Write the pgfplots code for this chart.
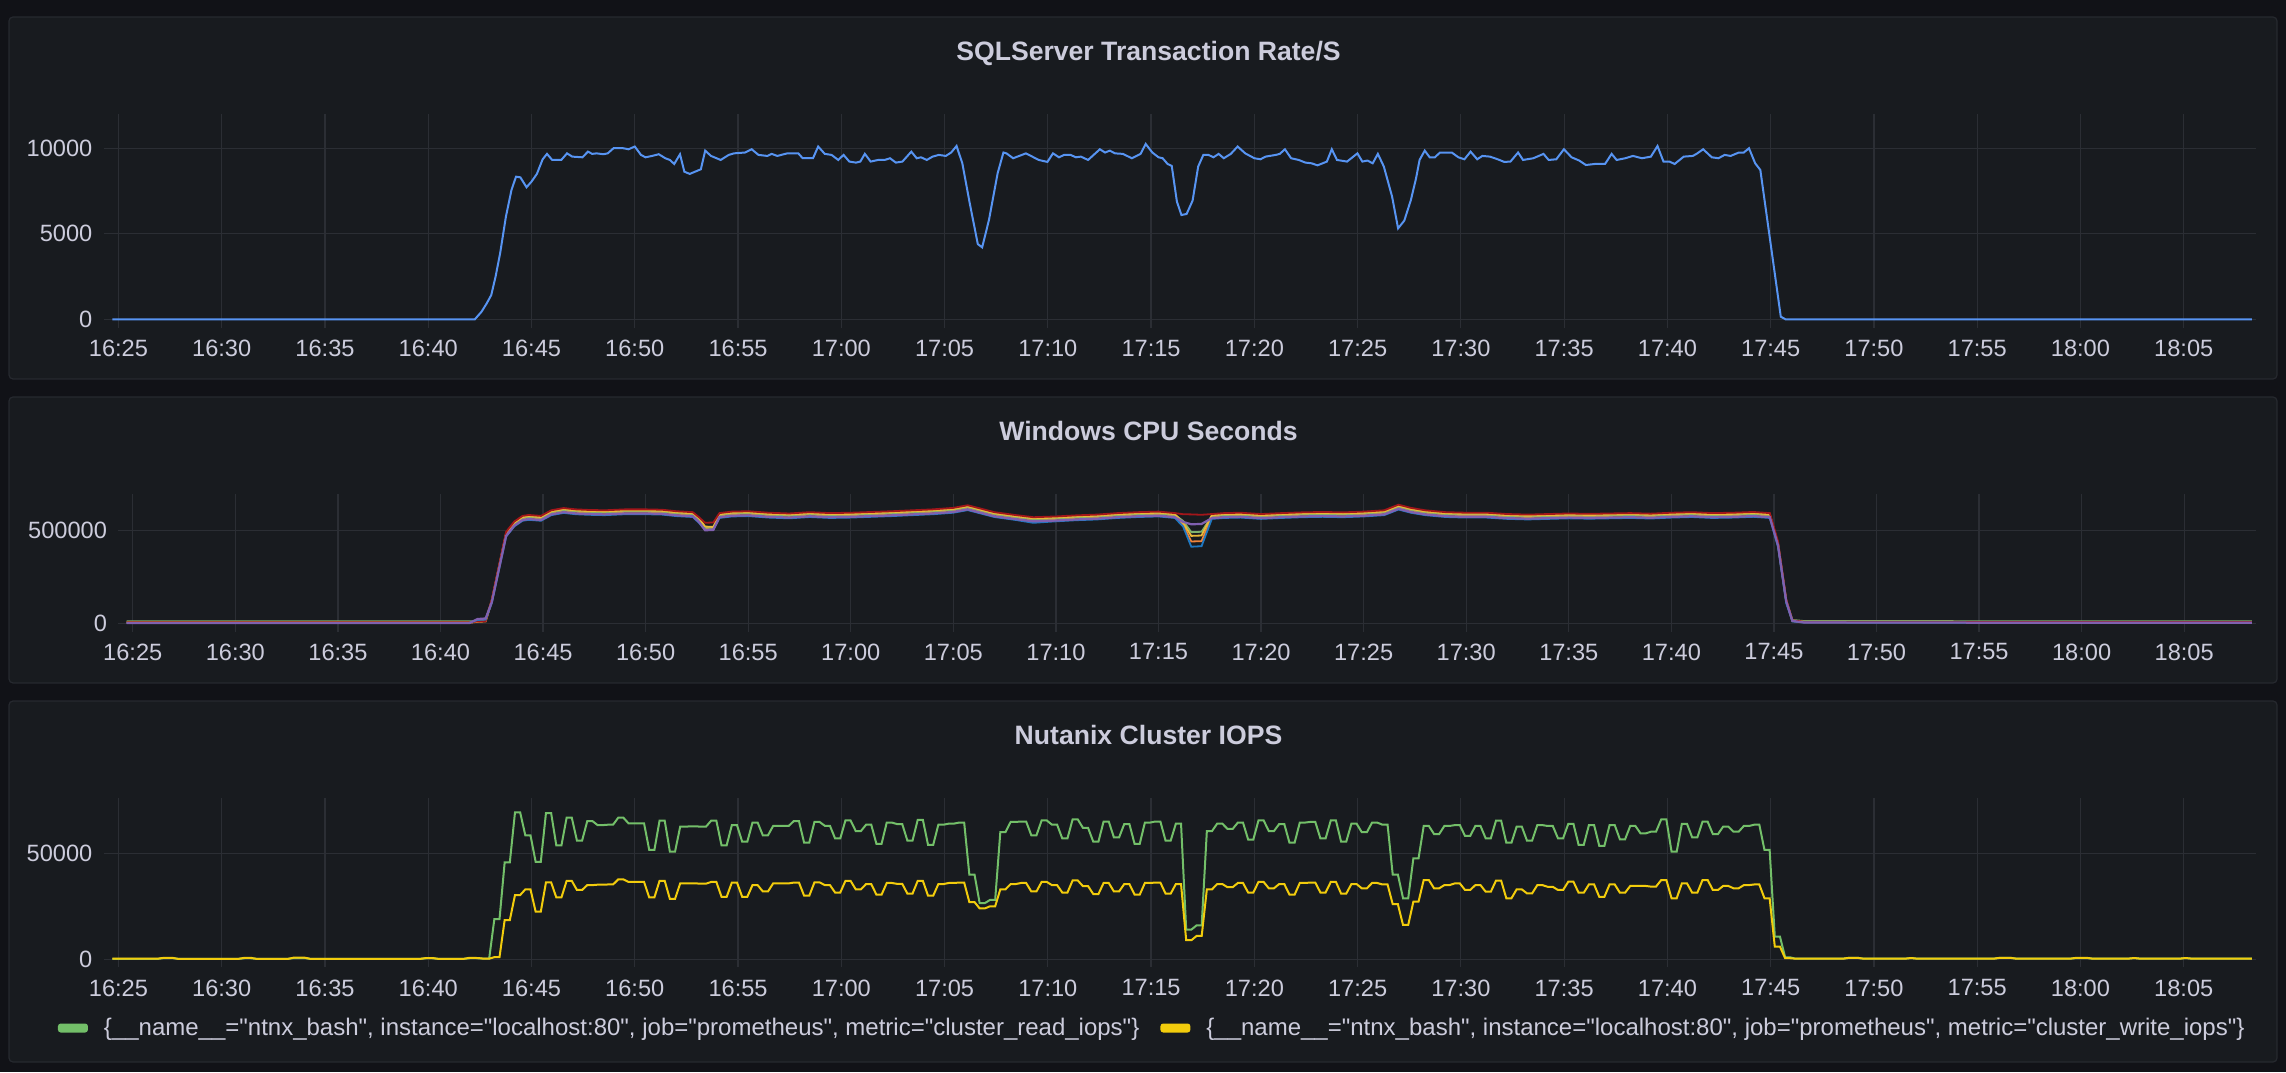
\documentclass[border=0pt]{standalone}
\usepackage{fontspec}
\setmainfont{Liberation Sans}
\newfontfamily\legfont{Liberation Sans}
\usepackage{pgfplots}
\pgfplotsset{compat=1.18}
\usepackage{pgfplotstable}

\definecolor{outerbg}{HTML}{111217}
\definecolor{panelbg}{HTML}{181B1F}
\definecolor{panelbd}{HTML}{26292F}
\definecolor{gridc}{HTML}{2B2E34}
\definecolor{textc}{HTML}{CCCCDC}
\definecolor{sqlblue}{HTML}{5794F2}
\definecolor{readg}{HTML}{73BF69}
\definecolor{writey}{HTML}{F2CC0C}
\definecolor{cgreen}{HTML}{7EB26D}
\definecolor{cyellow}{HTML}{EAB839}
\definecolor{cblue}{HTML}{1F78C1}
\definecolor{corange}{HTML}{EF843C}
\definecolor{cred}{HTML}{A3161A}
\definecolor{cpurple}{HTML}{8060B0}

\pgfplotstableread[row sep=\\]{
t a b c d e f\\
-0.3 13 6 4 5 7 3\\
16.4 13 6 4 5 7 3\\
16.8 14 12 20 10 12 25\\
17.2 18 15 22 12 14 28\\
17.5 125 122 110 118 130 115\\
18.2 482 486 466 479 492 470\\
18.6 537 541 521 534 547 525\\
19.0 567 571 551 564 577 555\\
19.3 572 576 556 569 582 560\\
19.9 567 571 551 564 577 555\\
20.4 597 601 581 594 607 585\\
21.0 609 613 593 606 619 597\\
21.6 602 606 586 599 612 590\\
22.2 599 603 583 596 609 587\\
23.0 597 601 581 594 607 585\\
24.0 602 606 586 599 612 590\\
25.0 602 606 586 599 612 590\\
25.8 600 604 584 597 610 588\\
26.5 592 596 576 589 602 580\\
27.3 587 591 571 584 597 575\\
27.6 557 565 540 552 570 545\\
27.9 515 520 503 512 540 500\\
28.3 516 518 504 513 542 502\\
28.6 582 586 566 579 592 570\\
29.2 590 594 574 587 600 578\\
30.0 592 596 576 589 602 580\\
31.0 584 588 568 581 594 572\\
32.0 580 584 564 577 590 568\\
33.0 587 591 571 584 597 575\\
34.0 582 586 566 579 592 570\\
35.0 584 588 568 581 594 572\\
36.0 588 592 572 585 598 576\\
37.0 592 596 576 589 602 580\\
38.0 597 601 581 594 607 585\\
39.0 602 606 586 599 612 590\\
40.0 610 614 594 607 620 598\\
40.7 624 628 608 621 634 612\\
41.3 607 611 591 604 617 595\\
42.0 587 591 571 584 597 575\\
43.0 572 576 556 569 582 560\\
43.9 560 564 540 557 570 548\\
45.0 564 568 548 561 574 552\\
46.0 570 574 554 567 580 558\\
47.0 574 578 558 571 584 562\\
48.0 582 586 566 579 592 570\\
49.0 587 591 571 584 597 575\\
50.0 590 594 574 587 600 578\\
50.8 582 586 566 579 592 570\\
51.2 550 540 520 530 586 545\\
51.6 490 470 412 440 585 532\\
52.1 492 472 415 442 583 534\\
52.6 577 581 561 574 587 565\\
53.2 582 586 566 579 592 570\\
54.0 584 588 568 581 594 572\\
55.0 577 581 561 574 587 565\\
56.0 582 586 566 579 592 570\\
57.0 586 590 570 583 596 574\\
58.0 588 592 572 585 598 576\\
59.0 586 590 570 583 596 574\\
60.0 590 594 574 587 600 578\\
61.0 597 601 581 594 607 585\\
61.7 627 631 611 624 637 615\\
62.3 610 614 594 607 620 598\\
63.0 597 601 581 594 607 585\\
64.0 587 591 571 584 597 575\\
65.0 584 588 568 581 594 572\\
66.0 584 588 568 581 594 572\\
67.0 577 581 561 574 587 565\\
68.0 574 578 558 571 584 562\\
69.0 577 581 561 574 587 565\\
70.0 580 584 564 577 590 568\\
71.0 578 582 562 575 588 566\\
72.0 580 584 564 577 590 568\\
73.0 582 586 566 579 592 570\\
74.0 579 583 563 576 589 567\\
75.0 584 588 568 581 594 572\\
76.0 587 591 571 584 597 575\\
77.0 582 586 566 579 592 570\\
78.0 584 588 568 581 594 572\\
79.0 588 592 572 585 598 576\\
79.8 582 586 566 579 592 570\\
80.2 430 425 410 420 440 420\\
80.6 125 122 110 118 130 120\\
80.9 20 16 12 14 18 15\\
81.5 14 9 6 8 10 6\\
103.3 13 8 5 7 9 5\\
}\cpudata

\pgfplotstableread[row sep=\\]{
t g w\\
-0.3 200 300\\ 1.9 200 300\\ 2.2 600 700\\ 2.6 600 700\\ 2.9 200 200\\
5.8 200 200\\ 6.1 500 700\\ 6.4 500 700\\ 6.7 200 200\\
8.2 200 200\\ 8.5 600 800\\ 9.0 600 800\\ 9.3 200 200\\
14.6 200 200\\ 14.9 500 600\\ 15.2 500 600\\ 15.5 200 200\\
16.7 200 200\\ 17.0 500 700\\ 17.4 500 600\\ 17.7 300 300\\ 17.95 300 300\\
18.2 18900 1000\\ 18.45 18900 1000\\
18.7 45700 18500\\ 18.95 45700 18500\\
19.2 69300 30300\\ 19.45 69300 30300\\
19.7 58500 33000\\ 19.95 58500 33000\\
20.2 46000 22500\\ 20.45 46000 22500\\
20.7 69000 36300\\ 20.95 69000 36300\\
21.2 53800 29200\\ 21.45 53800 29200\\
21.7 66800 37000\\ 21.95 66800 37000\\
22.2 56000 32700\\ 22.45 56000 32700\\
22.7 65200 35000\\ 22.95 65200 35000\\
23.2 63300 35200\\ 23.45 63300 35200\\
23.7 63500 35300\\ 23.95 63500 35300\\
24.2 66800 37700\\ 24.45 66800 37700\\
24.7 64100 36500\\ 24.95 64100 36500\\
25.2 64100 36500\\ 25.45 64100 36500\\
25.7 51600 29200\\ 25.95 51600 29200\\
26.2 65400 37000\\ 26.45 65400 37000\\
26.7 50800 28500\\ 26.95 50800 28500\\
27.2 62600 35800\\ 27.45 62600 35800\\
27.7 62700 35800\\ 27.95 62700 35800\\
28.2 62600 35700\\ 28.45 62600 35700\\
28.7 65400 36500\\ 28.95 65400 36500\\
29.2 53800 29500\\ 29.45 53800 29500\\
29.7 63300 36200\\ 29.95 63300 36200\\
30.2 55500 29500\\ 30.45 55500 29500\\
30.7 64500 35000\\ 30.95 64500 35000\\
31.2 58500 32000\\ 31.45 58500 32000\\
31.7 62900 35800\\ 31.95 62900 35800\\
32.2 62900 35800\\ 32.45 62900 35800\\
32.7 65200 36200\\ 32.95 65200 36200\\
33.2 55000 30000\\ 33.45 55000 30000\\
33.7 64800 36300\\ 33.95 64800 36300\\
34.2 63000 35000\\ 34.45 63000 35000\\
34.7 57000 31500\\ 34.95 57000 31500\\
35.2 65500 37000\\ 35.45 65500 37000\\
35.7 60500 33000\\ 35.95 60500 33000\\
36.2 63500 35500\\ 36.45 63500 35500\\
36.7 54500 30500\\ 36.95 54500 30500\\
37.2 64500 36000\\ 37.45 64500 36000\\
37.7 63800 35600\\ 37.95 63800 35600\\
38.2 56000 31000\\ 38.45 56000 31000\\
38.7 65800 37000\\ 38.95 65800 37000\\
39.2 54000 30000\\ 39.45 54000 30000\\
39.7 63500 35500\\ 39.95 63500 35500\\
40.2 64000 36000\\ 40.45 64000 36000\\
40.7 64500 36200\\ 40.95 64500 36200\\
41.2 40000 27000\\ 41.45 40000 27000\\
41.7 26500 24000\\ 41.95 26500 24000\\
42.2 28000 25000\\ 42.45 28000 25000\\
42.7 60000 33000\\ 42.95 60000 33000\\
43.2 64800 35500\\ 43.45 64800 35500\\
43.7 65000 36000\\ 43.95 65000 36000\\
44.2 58500 32000\\ 44.45 58500 32000\\
44.7 65500 36500\\ 44.95 65500 36500\\
45.2 63500 35000\\ 45.45 63500 35000\\
45.7 57000 31500\\ 45.95 57000 31500\\
46.2 66000 37200\\ 46.45 66000 37200\\
46.7 62000 34500\\ 46.95 62000 34500\\
47.2 55500 30800\\ 47.45 55500 30800\\
47.7 65000 36000\\ 47.95 65000 36000\\
48.2 57500 32000\\ 48.45 57500 32000\\
48.7 63800 35500\\ 48.95 63800 35500\\
49.2 54500 30500\\ 49.45 54500 30500\\
49.7 64500 36000\\ 49.95 64500 36000\\
50.2 65000 36200\\ 50.45 65000 36200\\
50.7 56000 31000\\ 50.95 56000 31000\\
51.2 64000 35500\\ 51.45 64000 35500\\
51.7 14000 9000\\ 51.95 14000 9000\\
52.2 16000 11000\\ 52.45 16000 11000\\
52.7 60500 33000\\ 52.95 60500 33000\\
53.2 64000 35500\\ 53.45 64000 35500\\
53.7 61500 34000\\ 53.95 61500 34000\\
54.2 64500 36000\\ 54.45 64500 36000\\
54.7 56500 31500\\ 54.95 56500 31500\\
55.2 65500 36500\\ 55.45 65500 36500\\
55.7 60500 33500\\ 55.95 60500 33500\\
56.2 63800 35500\\ 56.45 63800 35500\\
56.7 55000 30500\\ 56.95 55000 30500\\
57.2 64500 36000\\ 57.45 64500 36000\\
57.7 64800 36200\\ 57.95 64800 36200\\
58.2 57000 31500\\ 58.45 57000 31500\\
58.7 65500 36500\\ 58.95 65500 36500\\
59.2 55500 31000\\ 59.45 55500 31000\\
59.7 64000 35500\\ 59.95 64000 35500\\
60.2 60000 33500\\ 60.45 60000 33500\\
60.7 64500 36000\\ 60.95 64500 36000\\
61.2 63500 35300\\ 61.45 63500 35300\\
61.7 40000 26000\\ 61.95 40000 26000\\
62.2 28800 16200\\ 62.45 28800 16200\\
62.7 47600 27200\\ 62.95 47600 27200\\
63.2 62900 37400\\ 63.45 62900 37400\\
63.7 59100 33500\\ 63.95 59100 33500\\
64.2 62900 35000\\ 64.45 62900 35000\\
64.7 63300 35800\\ 64.95 63300 35800\\
65.2 58200 32700\\ 65.45 58200 32700\\
65.7 62900 35000\\ 65.95 62900 35000\\
66.2 57100 31900\\ 66.45 57100 31900\\
66.7 65400 37100\\ 66.95 65400 37100\\
67.2 55000 28800\\ 67.45 55000 28800\\
67.7 62600 33000\\ 67.95 62600 33000\\
68.2 56000 31100\\ 68.45 56000 31100\\
68.7 63300 35000\\ 68.95 63300 35000\\
69.2 62900 34200\\ 69.45 62900 34200\\
69.7 57100 32700\\ 69.95 57100 32700\\
70.2 63900 36600\\ 70.45 63900 36600\\
70.7 54000 31400\\ 70.95 54000 31400\\
71.2 63300 35300\\ 71.45 63300 35300\\
71.7 53500 29500\\ 71.95 53500 29500\\
72.2 63300 35300\\ 72.45 63300 35300\\
72.7 56600 31400\\ 72.95 56600 31400\\
73.2 62900 34600\\ 73.45 62900 34600\\
73.7 59400 34600\\ 73.95 59400 34600\\
74.2 60200 34300\\ 74.45 60200 34300\\
74.7 66000 37400\\ 74.95 66000 37400\\
75.2 50800 28800\\ 75.45 50800 28800\\
75.7 63900 35800\\ 75.95 63900 35800\\
76.2 57500 31400\\ 76.45 57500 31400\\
76.7 64900 37400\\ 76.95 64900 37400\\
77.2 59100 32700\\ 77.45 59100 32700\\
77.7 62600 34600\\ 77.95 62600 34600\\
78.2 60200 33500\\ 78.45 60200 33500\\
78.7 62900 35000\\ 78.95 62900 35000\\
79.2 63500 35300\\ 79.45 63500 35300\\
79.7 51600 28800\\ 79.95 51600 28800\\
80.2 10700 6000\\ 80.45 10700 6000\\
80.7 900 500\\ 80.95 900 500\\
81.2 300 300\\ 83.5 300 300\\ 83.8 700 700\\ 84.2 700 700\\ 84.5 300 300\\
86.5 300 300\\ 86.8 600 600\\ 87.1 300 300\\
90.8 300 300\\ 91.1 700 700\\ 91.6 700 700\\ 91.9 300 300\\
94.5 300 300\\ 94.8 600 700\\ 95.3 600 700\\ 95.6 300 300\\
97.3 300 300\\ 97.6 600 600\\ 97.9 300 300\\
99.8 300 300\\ 100.1 600 600\\ 100.4 300 300\\
103.3 300 300\\
}\iopsdata

\pgfplotsset{
  graf/.style={
    scale only axis,
    anchor=south west,
    axis line style={draw=none},
    tick style={draw=none},
    major tick length=0pt,
    grid=major,
    major grid style={draw=gridc, line width=0.6pt},
    scaled y ticks=false,
    scaled x ticks=false,
    xtick={0,5,...,100},
    xticklabels={16:25,16:30,16:35,16:40,16:45,16:50,16:55,17:00,17:05,17:10,17:15,17:20,17:25,17:30,17:35,17:40,17:45,17:50,17:55,18:00,18:05},
    tick label style={font=\fontsize{11.8}{13}\selectfont, text=textc},
    xticklabel style={anchor=north, inner sep=0pt},
    yticklabel style={anchor=east, inner sep=0pt},
  }
}

\begin{document}
\begin{tikzpicture}
\useasboundingbox (0,0) rectangle (1143pt,536pt);
\fill[outerbg] (0,0) rectangle (1143pt,536pt);
\filldraw[fill=panelbg, draw=panelbd, line width=0.6pt, rounded corners=2pt] (4.5pt,346.5pt) rectangle (1138.5pt,527.5pt);
\filldraw[fill=panelbg, draw=panelbd, line width=0.6pt, rounded corners=2pt] (4.5pt,194.5pt) rectangle (1138.5pt,337.5pt);
\filldraw[fill=panelbg, draw=panelbd, line width=0.6pt, rounded corners=2pt] (4.5pt,5pt) rectangle (1138.5pt,185.5pt);

\node[font=\bfseries\fontsize{13.3}{16}\selectfont, text=textc, anchor=base] at (574.25pt,505.75pt) {SQLServer Transaction Rate/S};
\node[font=\bfseries\fontsize{13.3}{16}\selectfont, text=textc, anchor=base] at (574.25pt,315.65pt) {Windows CPU Seconds};
\node[font=\bfseries\fontsize{13.3}{16}\selectfont, text=textc, anchor=base] at (574.25pt,163.75pt) {Nutanix Cluster IOPS};

% Panel 1
\begin{axis}[graf, at={(52pt,372pt)}, width=1076pt, height=107pt,
  xmin=-0.7, xmax=103.5, ymin=-500, ymax=12000,
  ytick={0,5000,10000}, yticklabels={0,5000,10000},
  xticklabel style={yshift=-6pt}, yticklabel style={xshift=-5.65pt}]
\addplot[sqlblue, line width=1pt] coordinates {
(-0.3,0)(17.25,0)(17.58,450)(17.83,935)(18.05,1420)(18.26,2500)(18.48,3860)(18.76,6000)
(19.03,7560)(19.25,8340)(19.46,8300)(19.76,7720)(20.0,8050)(20.26,8500)(20.54,9355)(20.75,9670)
(21.0,9315)(21.44,9315)(21.72,9700)(21.97,9510)(22.47,9470)(22.73,9800)(22.94,9670)(23.15,9700)
(23.48,9650)(23.69,9700)(23.97,10000)(24.44,10000)(24.7,9940)(25.0,10100)(25.3,9610)(25.52,9470)
(25.84,9550)(26.16,9650)(26.48,9415)(26.7,9315)(26.91,9080)(27.19,9650)(27.4,8630)(27.66,8500)
(27.92,8630)(28.2,8770)(28.41,9860)(28.69,9550)(29.16,9315)(29.55,9610)(29.8,9700)(30.34,9750)
(30.66,9940)(30.99,9610)(31.42,9550)(31.63,9670)(31.9,9550)(32.38,9700)(32.92,9700)(33.13,9415)
(33.63,9415)(33.88,10100)(34.2,9670)(34.53,9610)(34.85,9315)(35.11,9610)(35.39,9220)(35.71,9160)
(35.92,9220)(36.14,9670)(36.42,9220)(36.78,9315)(37.1,9315)(37.36,9415)(37.64,9160)(37.96,9220)
(38.39,9800)(38.65,9415)(38.86,9470)(39.14,9315)(39.42,9510)(39.72,9610)(40.06,9550)(40.32,9750)
(40.58,10130)(40.86,9120)(41.22,6780)(41.61,4400)(41.82,4210)(42.15,5810)(42.57,8540)(42.85,9750)
(43.0,9700)(43.32,9415)(43.94,9700)(44.56,9315)(44.98,9200)(45.25,9700)(45.54,9470)(45.79,9610)
(46.1,9610)(46.36,9470)(46.6,9510)(46.95,9315)(47.52,9940)(47.77,9750)(48.0,9860)(48.26,9700)
(48.63,9670)(49.07,9415)(49.49,9670)(49.74,10250)(50.06,9750)(50.36,9470)(50.56,9415)(50.8,9080)
(51.0,8970)(51.25,6880)(51.47,6100)(51.72,6160)(52.01,6940)(52.28,8930)(52.53,9610)(52.78,9610)
(53.02,9470)(53.27,9670)(53.52,9415)(53.86,9670)(54.19,10100)(54.56,9700)(55.0,9415)(55.3,9355)
(55.54,9510)(56.04,9610)(56.23,9670)(56.48,9940)(56.78,9415)(57.15,9315)(57.47,9160)(57.77,9120)
(58.06,9000)(58.51,9220)(58.75,9940)(59.0,9315)(59.49,9220)(59.99,9700)(60.23,9220)(60.48,9280)
(60.73,9120)(60.98,9670)(61.27,8930)(61.67,7170)(61.96,5320)(62.26,5770)(62.58,6980)(62.83,8245)
(63.0,9315)(63.25,9860)(63.49,9470)(63.74,9470)(63.99,9750)(64.56,9750)(64.88,9470)(65.17,9355)
(65.47,9800)(65.79,9355)(66.04,9550)(66.41,9510)(66.78,9355)(67.1,9200)(67.4,9220)(67.77,9750)
(68.01,9315)(68.51,9415)(69.0,9670)(69.25,9315)(69.62,9355)(69.99,9940)(70.36,9470)(70.73,9280)
(71.05,9020)(71.48,9080)(71.98,9080)(72.3,9670)(72.54,9315)(72.96,9415)(73.33,9550)(73.77,9415)
(74.2,9510)(74.52,10130)(74.81,9220)(75.1,9220)(75.35,9080)(75.79,9510)(76.23,9550)(76.41,9670)
(76.73,9940)(77.15,9470)(77.47,9415)(77.77,9610)(78.06,9550)(78.46,9750)(78.7,9750)(78.95,10000)
(79.25,9120)(79.5,8730)(80.49,160)(80.73,0)(103.3,0)
};
\end{axis}

% Panel 2
\begin{axis}[graf, at={(59pt,220.15pt)}, width=1069pt, height=68.85pt,
  xmin=-0.72, xmax=103.5, ymin=-42.8, ymax=694.3,
  ytick={0,500}, yticklabels={0,500000},
  xticklabel style={yshift=-5.8pt}, yticklabel style={xshift=-5.35pt}]
\addplot[corange, line width=0.9pt] table[x=t,y=d]{\cpudata};
\addplot[cgreen, line width=0.9pt] table[x=t,y=a]{\cpudata};
\addplot[cyellow, line width=0.9pt] table[x=t,y=b]{\cpudata};
\addplot[cred, line width=0.9pt] table[x=t,y=e]{\cpudata};
\addplot[cblue, line width=0.9pt] table[x=t,y=c]{\cpudata};
\addplot[cpurple, line width=1.1pt] table[x=t,y=f]{\cpudata};
\end{axis}

% Panel 3
\begin{axis}[graf, at={(52pt,52.65pt)}, width=1076pt, height=84.35pt,
  xmin=-0.7, xmax=103.5, ymin=-3490, ymax=76090,
  ytick={0,50000}, yticklabels={0,50000},
  xticklabel style={yshift=-6.3pt}, yticklabel style={xshift=-5.65pt},
  legend columns=2,
  legend image code/.code={\fill[#1, rounded corners=1pt] (0pt,-1.75pt) rectangle (14pt,1.75pt);},
  legend style={at={(-0.0214,-0.3634)}, anchor=west, draw=none, fill=none,
    inner sep=0pt, outer sep=0pt, font=\legfont\fontsize{12}{14}\selectfont, text=textc,
    nodes={inner sep=0pt},
    /tikz/every odd column/.append style={column sep=8pt},
    /tikz/every even column/.append style={column sep=10.5pt}},
  legend cell align=left]
\addplot[readg, line width=1pt] table[x=t,y=g]{\iopsdata};
\addlegendentry{\{\_\_name\_\_="ntnx\_bash", instance="localhost:80", job="prometheus", metric="cluster\_read\_iops"\}}
\addplot[writey, line width=1pt] table[x=t,y=w]{\iopsdata};
\addlegendentry{\{\_\_name\_\_="ntnx\_bash", instance="localhost:80", job="prometheus", metric="cluster\_write\_iops"\}}
\end{axis}
\end{tikzpicture}
\end{document}
